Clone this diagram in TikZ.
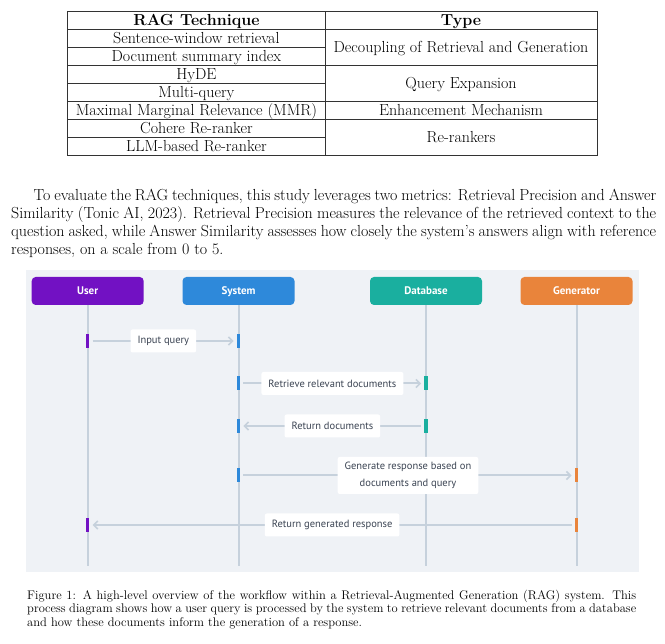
\documentclass[tikz,border=0pt]{standalone}
\usepackage{fontspec}
\newfontfamily\diafont{PT Sans}
\usetikzlibrary{arrows.meta}
\definecolor{bgc}{HTML}{EFF2F6}
\definecolor{userc}{HTML}{7211C3}
\definecolor{sysc}{HTML}{2E89DA}
\definecolor{dbc}{HTML}{1AAF9F}
\definecolor{genc}{HTML}{E9843B}
\definecolor{linec}{HTML}{C6D1DC}
\definecolor{labtext}{HTML}{3A4352}
\tikzset{
  tabline/.style={line width=0.8pt, black!80},
  tabtext/.style={anchor=base, inner sep=0pt, font=\fontsize{16}{18}\selectfont},
  hdr/.style={minimum width=112pt, minimum height=28pt, rounded corners=4pt, text=white, inner sep=0pt, text height=7.8pt, text depth=0pt, font=\diafont\bfseries\fontsize{11}{12}\selectfont},
  life/.style={line width=2pt, draw=linec},
  actbar/.style={minimum width=3.5pt, minimum height=14pt, inner sep=0pt, draw=none},
  msg/.style={line width=2pt, draw=linec, -{Straight Barb[length=4pt,width=8pt,line width=1.6pt]}},
  lab/.style={fill=white, rounded corners=2pt, inner xsep=7pt, inner ysep=0pt, minimum height=23pt, text=labtext, align=center, font=\diafont\fontsize{10.5}{16.5}\selectfont}
}
\begin{document}
\begin{tikzpicture}[x=1pt,y=-1pt]
\useasboundingbox (0,0) rectangle (665,644);
% ---------- table ----------
\draw[tabline] (67.5,11.7) rectangle (597,155);
\draw[tabline] (325.3,11.7) -- (325.3,155);
\draw[tabline] (67.5,29) -- (597,29);
\draw[tabline] (67.5,47.3) -- (325.3,47.3);
\draw[tabline] (67.5,65.3) -- (597,65.3);
\draw[tabline] (67.5,83.7) -- (325.3,83.7);
\draw[tabline] (67.5,101.7) -- (597,101.7);
\draw[tabline] (67.5,119.7) -- (597,119.7);
\draw[tabline] (67.5,137.7) -- (325.3,137.7);
\node[tabtext] (h1) at (196.4,25.5) {\bfseries RAG Technique};
\node[tabtext] (h2) at (461,25.5) {\bfseries Type};
\node[tabtext] (r1) at (196.4,43.3) {Sentence-window retrieval};
\node[tabtext] (r2) at (196.4,61.3) {Document summary index};
\node[tabtext] (r3) at (196.4,79.5) {HyDE};
\node[tabtext] (r4) at (196.4,97.7) {Multi-query};
\node[tabtext] (r5) at (196.4,115.7) {Maximal Marginal Relevance (MMR)};
\node[tabtext] (r6) at (196.4,133.7) {Cohere Re-ranker};
\node[tabtext] (r7) at (196.4,151.3) {LLM-based Re-ranker};
\node[tabtext] (y1) at (461,52.3) {Decoupling of Retrieval and Generation};
\node[tabtext] (y2) at (461,88.5) {Query Expansion};
\node[tabtext] (y3) at (461,115.7) {Enhancement Mechanism};
\node[tabtext] (y4) at (461,142.5) {Re-rankers};
% ---------- paragraph ----------
\node[anchor=north west, inner sep=0pt, text width=645pt, align=justify,
      font=\fontsize{16}{18}\selectfont] (para) at (11,189) {%
\hspace*{22.5pt}To evaluate the RAG techniques, this study leverages two metrics: Retrieval Precision and Answer\linebreak
Similarity (Tonic AI, 2023). Retrieval Precision measures the relevance of the retrieved context to the\linebreak
question asked, while Answer Similarity assesses how closely the system's answers align with reference\linebreak
responses, on a scale from 0 to 5.};
% ---------- diagram ----------
\fill[bgc] (25.5,270) rectangle (639,572.5);
\node[hdr, fill=userc] (user) at (87.7,291) {User};
\node[hdr, fill=sysc] (sys) at (238.5,291) {System};
\node[hdr, fill=dbc] (db) at (426,291) {Database};
\node[hdr, fill=genc] (gen) at (576.5,291) {Generator};
\coordinate (userend) at (87.7,566.5);
\coordinate (sysend) at (238.5,566.5);
\coordinate (dbend) at (426,566.5);
\coordinate (genend) at (576.5,566.5);
\draw[life] (user.south) -- (userend);
\draw[life] (sys.south) -- (sysend);
\draw[life] (db.south) -- (dbend);
\draw[life] (gen.south) -- (genend);
% message 1
\node[actbar, fill=userc] (u1) at (87.7,341) {};
\node[actbar, fill=sysc] (s1) at (238.5,341) {};
\draw[msg] ([xshift=3pt]u1.east) -- ([xshift=-3pt]s1.west);
\node[lab] (m1) at (163.3,341) {Input query};
% message 2
\node[actbar, fill=sysc] (s2) at (238.5,383.5) {};
\node[actbar, fill=dbc] (d2) at (426,383.5) {};
\draw[msg] ([xshift=3pt]s2.east) -- ([xshift=-3pt]d2.west);
\node[lab] (m2) at (332.4,383.5) {Retrieve relevant documents};
% message 3
\node[actbar, fill=sysc] (s3) at (238.5,426) {};
\node[actbar, fill=dbc] (d3) at (426,426) {};
\draw[msg] ([xshift=-3pt]d3.west) -- ([xshift=3pt]s3.east);
\node[lab] (m3) at (332.4,426) {Return documents};
% message 4
\node[actbar, fill=sysc] (s4) at (238.5,475.5) {};
\node[actbar, fill=genc] (g4) at (576.5,475.5) {};
\draw[msg] ([xshift=3pt]s4.east) -- ([xshift=-3pt]g4.west);
\node[lab, minimum height=37pt] (m4) at (408,475.5) {Generate response based on\\documents and query};
% message 5
\node[actbar, fill=userc] (u5) at (87.7,525) {};
\node[actbar, fill=genc] (g5) at (576.5,525) {};
\draw[msg] ([xshift=-3pt]g5.west) -- ([xshift=3pt]u5.east);
\node[lab] (m5) at (332.1,525) {Return generated response};
% ---------- caption ----------
\node[anchor=north west, inner sep=0pt, text width=609pt, align=justify,
      font=\fontsize{12.5}{13.6}\selectfont] (cap) at (27,589.5) {%
Figure 1: A high-level overview of the workflow within a Retrieval-Augmented Generation (RAG) system. This\linebreak
process diagram shows how a user query is processed by the system to retrieve relevant documents from a database\linebreak
and how these documents inform the generation of a response.};
\end{tikzpicture}
\end{document}
